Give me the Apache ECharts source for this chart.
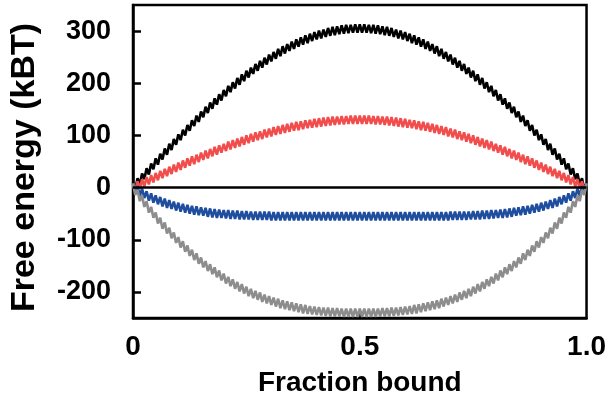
<!DOCTYPE html>
<html>
<head>
<meta charset="utf-8">
<script src="https://cdn.jsdelivr.net/npm/echarts@6/dist/echarts.min.js"></script>
<style>
  html, body { margin: 0; padding: 0; background: #fff; }
  #chart { width: 609px; height: 402px; }
</style>
</head>
<body>
<div id="chart"></div>
<script>
// Free energy (kBT) versus fraction bound, one value every 0.005 of fraction bound.
const blackEnergy = [
  8,-3,18,6,27,16,37,25,46,35,
  56,44,65,54,75,63,84,72,93,82,
  102,91,111,100,120,109,129,118,138,126,
  146,135,155,143,163,151,171,159,179,167,
  187,175,195,183,202,190,210,197,217,204,
  224,211,230,218,237,224,243,230,249,236,
  255,242,260,247,266,252,271,257,275,262,
  280,266,284,270,288,274,292,277,295,281,
  298,284,301,286,303,289,306,291,308,292,
  309,294,311,295,312,296,312,297,313,297,
  313,
  297,313,297,312,296,312,295,311,294,309,
  292,308,291,306,289,303,286,301,284,298,
  281,295,277,292,274,288,270,284,266,280,
  262,275,257,271,252,266,247,260,242,255,
  236,249,230,243,224,237,218,230,211,224,
  204,217,197,210,190,202,183,195,175,187,
  167,179,159,171,151,163,143,155,135,146,
  126,138,118,129,109,120,100,111,91,102,
  82,93,72,84,63,75,54,65,44,56,
  35,46,25,37,16,27,6,18,-3,8
];

const redEnergy = [
  8,-6,12,-2,16,2,20,6,24,10,
  28,14,32,18,36,22,40,26,44,30,
  48,34,52,38,56,42,60,45,63,49,
  67,53,71,56,74,60,78,63,81,67,
  84,70,88,73,91,76,94,79,97,82,
  100,85,103,88,106,91,108,93,111,96,
  113,98,116,101,118,103,120,105,122,107,
  124,109,126,110,127,112,129,114,130,115,
  132,116,133,117,134,118,135,119,136,120,
  136,121,137,121,137,122,138,122,138,122,
  138,
  122,138,122,138,122,137,121,137,121,136,
  120,136,119,135,118,134,117,133,116,132,
  115,130,114,129,112,127,110,126,109,124,
  107,122,105,120,103,118,101,116,98,113,
  96,111,93,108,91,106,88,103,85,100,
  82,97,79,94,76,91,73,88,70,84,
  67,81,63,78,60,74,56,71,53,67,
  49,63,45,60,42,56,38,52,34,48,
  30,44,26,40,22,36,18,32,14,28,
  10,24,6,20,2,16,-2,12,-6,8
];

const blueEnergy = [
  8,-11,3,-16,-2,-20,-7,-25,-11,-29,
  -15,-32,-18,-36,-21,-39,-24,-41,-27,-44,
  -29,-46,-31,-48,-33,-50,-35,-52,-36,-53,
  -38,-54,-39,-56,-40,-57,-41,-58,-42,-58,
  -43,-59,-43,-60,-44,-60,-44,-61,-45,-61,
  -45,-61,-46,-62,-46,-62,-46,-62,-46,-62,
  -46,-63,-47,-63,-47,-63,-47,-63,-47,-63,
  -47,-63,-47,-63,-47,-63,-47,-63,-47,-63,
  -47,-63,-47,-63,-47,-63,-47,-63,-47,-63,
  -47,-63,-47,-63,-47,-63,-47,-63,-47,-63,
  -47,
  -63,-47,-63,-47,-63,-47,-63,-47,-63,-47,
  -63,-47,-63,-47,-63,-47,-63,-47,-63,-47,
  -63,-47,-63,-47,-63,-47,-63,-47,-63,-47,
  -63,-47,-63,-47,-63,-47,-63,-47,-63,-46,
  -62,-46,-62,-46,-62,-46,-62,-46,-61,-45,
  -61,-45,-61,-44,-60,-44,-60,-43,-59,-43,
  -58,-42,-58,-41,-57,-40,-56,-39,-54,-38,
  -53,-36,-52,-35,-50,-33,-48,-31,-46,-29,
  -44,-27,-41,-24,-39,-21,-36,-18,-32,-15,
  -29,-11,-25,-7,-20,-2,-16,3,-11,8
];

const grayEnergy = [
  8,-14,-4,-26,-15,-37,-26,-48,-37,-58,
  -48,-69,-58,-79,-67,-88,-77,-97,-86,-106,
  -95,-115,-103,-123,-111,-131,-119,-139,-126,-146,
  -134,-153,-141,-160,-147,-166,-153,-172,-159,-178,
  -165,-184,-171,-189,-176,-194,-181,-199,-185,-203,
  -190,-208,-194,-212,-198,-215,-201,-219,-205,-222,
  -208,-225,-211,-228,-213,-231,-216,-233,-218,-235,
  -220,-237,-222,-239,-224,-241,-225,-242,-227,-243,
  -228,-244,-229,-245,-230,-246,-230,-247,-231,-247,
  -231,-247,-232,-248,-232,-248,-232,-248,-232,-248,
  -232,
  -248,-232,-248,-232,-248,-232,-248,-232,-247,-231,
  -247,-231,-247,-230,-246,-230,-245,-229,-244,-228,
  -243,-227,-242,-225,-241,-224,-239,-222,-237,-220,
  -235,-218,-233,-216,-231,-213,-228,-211,-225,-208,
  -222,-205,-219,-201,-215,-198,-212,-194,-208,-190,
  -203,-185,-199,-181,-194,-176,-189,-171,-184,-165,
  -178,-159,-172,-153,-166,-147,-160,-141,-153,-134,
  -146,-126,-139,-119,-131,-111,-123,-103,-115,-95,
  -106,-86,-97,-77,-88,-67,-79,-58,-69,-48,
  -58,-37,-48,-26,-37,-15,-26,-4,-14,8
];

const yTickValues = [-200, -100, 0, 100, 200, 300];
const xTickValues = [0, 0.5, 1];
const xTickLabels = ['0', '0.5', '1.0'];

// x position of each sample (fraction bound from 0 to 1)
const fraction = blackEnergy.map((_, i) => i / (blackEnergy.length - 1));
const toPairs = arr => arr.map((v, i) => [fraction[i], v]);

const FONT = '"Liberation Sans", Arial, Helvetica, sans-serif';
const AXIS_W = 2.5;

const chart = echarts.init(document.getElementById('chart'), null, { renderer: 'canvas' });

function lineSeries(name, data, color, extra) {
  return Object.assign({
    name: name,
    type: 'line',
    data: toPairs(data),
    showSymbol: false,
    symbol: 'none',
    smooth: false,
    lineStyle: { color: color, width: 2.6 },
    itemStyle: { color: color },
    silent: true
  }, extra || {});
}

chart.setOption({
  animation: false,
  backgroundColor: '#fff',
  grid: {
    left: 133, right: 14, top: 5, bottom: 82,
    show: true, borderColor: '#000', borderWidth: AXIS_W, backgroundColor: 'transparent'
  },
  xAxis: {
    type: 'value', min: 0, max: 1,
    splitLine: { show: false },
    axisLine: { onZero: false, lineStyle: { color: '#000', width: AXIS_W } },
    axisTick: { show: true, inside: true, length: 7, customValues: [0.5], lineStyle: { color: '#000', width: AXIS_W } },
    axisLabel: {
      customValues: xTickValues,
      formatter: v => xTickLabels[xTickValues.indexOf(v)],
      color: '#000', fontFamily: FONT, fontWeight: 'bold', fontSize: 28, margin: 15
    },
    name: 'Fraction bound',
    nameLocation: 'middle', nameGap: 51,
    nameTextStyle: { color: '#000', fontFamily: FONT, fontWeight: 'bold', fontSize: 28 }
  },
  yAxis: {
    type: 'value', min: -250, max: 350,
    splitLine: { show: false },
    axisLine: { onZero: false, lineStyle: { color: '#000', width: AXIS_W } },
    axisTick: { show: true, inside: true, length: 8, customValues: yTickValues, lineStyle: { color: '#000', width: AXIS_W } },
    axisLabel: {
      customValues: yTickValues,
      color: '#000', fontFamily: FONT, fontWeight: 'bold', fontSize: 27, margin: 22
    },
    name: 'Free energy (kBT)',
    nameLocation: 'middle', nameGap: 91, nameRotate: 90,
    nameTextStyle: {
      color: '#000', fontFamily: FONT, fontWeight: 'bold', fontSize: 34,
      padding: [0, 12, 0, 0]
    }
  },
  series: [
    lineSeries('black', blackEnergy, '#000000'),
    lineSeries('red', redEnergy, '#f24d4d'),
    lineSeries('blue', blueEnergy, '#1f4e9f'),
    lineSeries('gray', grayEnergy, '#8d8d8d', {
      markLine: {
        silent: true, symbol: ['none', 'none'],
        label: { show: false },
        lineStyle: { color: '#000', width: AXIS_W, type: 'solid' },
        data: [{ yAxis: 0 }]
      }
    })
  ]
});
</script>
</body>
</html>
